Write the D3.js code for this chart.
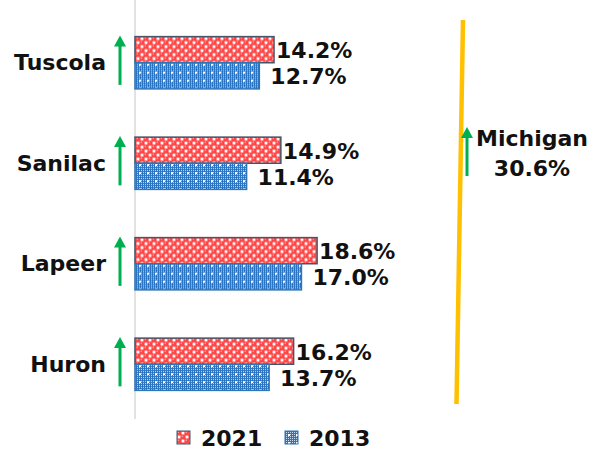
<!DOCTYPE html>
<html>
<head>
<meta charset="utf-8">
<script src="https://cdn.jsdelivr.net/npm/d3@7"></script>
<style>
  html, body { margin: 0; padding: 0; background: #fff; }
  svg { display: block; font-family: "DejaVu Sans", Verdana, sans-serif; font-weight: bold; }
</style>
</head>
<body>
<svg id="chart" width="598" height="452"></svg>
<script>
/*
 * Data
 * ========================================================================== */
const counties = ['Tuscola', 'Sanilac', 'Lapeer', 'Huron'];
const years = ['2021', '2013'];
const values2021 = [14.2, 14.9, 18.6, 16.2];
const values2013 = [12.7, 11.4, 17.0, 13.7];
const stateName = 'Michigan';
const stateValue = 30.6;

const axisX = 135,
      fontSize = 22;

const svg = d3.select('#chart');
const defs = svg.append('defs');

// red "sphere" style fill: red blobs with white squares between
const pRed = defs.append('pattern')
  .attr('id', 'pat2021').attr('patternUnits', 'userSpaceOnUse')
  .attr('width', 8).attr('height', 8);
pRed.append('rect').attr('width', 8).attr('height', 8).attr('fill', '#ff4646');
[[4.6, 0.6], [0.6, 4.6]].forEach(([sx, sy]) => {
  pRed.append('rect').attr('x', sx).attr('y', sy).attr('width', 2.8).attr('height', 2.8).attr('fill', '#fff');
});
[[1.3, 1.3], [5.3, 5.3]].forEach(([cx, cy]) => {
  pRed.append('circle').attr('cx', cx).attr('cy', cy).attr('r', 0.7).attr('fill', '#ffb0b0');
});

// blue fine mesh fill
const pBlue = defs.append('pattern')
  .attr('id', 'pat2013').attr('patternUnits', 'userSpaceOnUse')
  .attr('width', 8).attr('height', 8);
pBlue.append('rect').attr('width', 8).attr('height', 8).attr('fill', '#2a74c2');
for (let i = 1; i < 8; i += 2) {
  for (let j = 1; j < 8; j += 2) {
    pBlue.append('rect').attr('x', i).attr('y', j).attr('width', 1).attr('height', 1).attr('fill', '#c4daf2');
  }
}
pBlue.append('rect').attr('x', 3).attr('y', 3).attr('width', 2).attr('height', 2).attr('fill', '#fff');

const fills = { '2021': 'url(#pat2021)', '2013': 'url(#pat2013)' };
const strokes = { '2021': '#44546a', '2013': '#2e75b6' };

/*
 * Scales
 * ========================================================================== */
const x = d3.scaleLinear().domain([0, 10]).range([axisX, axisX + 97.9]);

const y = d3.scaleBand()
  .domain(counties)
  .range([12.5, 414.5])
  .paddingInner(0.48)
  .paddingOuter(0.24);

const ySub = d3.scaleBand().domain(years).range([0, y.bandwidth()]);

const rows = counties.map((c, i) => ({
  county: c,
  vals: [{ year: '2021', v: values2021[i] }, { year: '2013', v: values2013[i] }]
}));

// vertical axis line
svg.append('line')
  .attr('x1', axisX).attr('x2', axisX)
  .attr('y1', 0).attr('y2', 419)
  .attr('stroke', '#d9d9d9').attr('stroke-width', 1.5);

/*
 * Bars and labels
 * ========================================================================== */
const g = svg.selectAll('g.county')
  .data(rows)
  .enter().append('g')
    .attr('class', 'county')
    .attr('transform', d => 'translate(0,' + y(d.county) + ')');

g.selectAll('rect.bar')
  .data(d => d.vals)
  .enter().append('rect')
    .attr('class', 'bar')
    .attr('x', x(0))
    .attr('y', d => ySub(d.year))
    .attr('width', d => x(d.v) - x(0))
    .attr('height', ySub.bandwidth())
    .attr('fill', d => fills[d.year])
    .attr('stroke', d => strokes[d.year])
    .attr('stroke-width', 1.5);

g.selectAll('text.val')
  .data(d => d.vals)
  .enter().append('text')
    .attr('class', 'val')
    .attr('x', d => x(d.v) + (d.year === '2021' ? 2 : 11))
    .attr('y', d => ySub(d.year) + ySub.bandwidth() / 2 + 1)
    .attr('dominant-baseline', 'central')
    .attr('font-size', fontSize)
    .attr('fill', '#111')
    .text(d => d.v.toFixed(1) + '%');

g.append('text')
  .attr('x', 106)
  .attr('y', y.bandwidth() / 2)
  .attr('text-anchor', 'end')
  .attr('dominant-baseline', 'central')
  .attr('font-size', fontSize)
  .attr('fill', '#111')
  .text(d => d.county);

// up arrows
function upArrow(sel, ax, top, bottom) {
  sel.append('line')
    .attr('x1', ax).attr('x2', ax)
    .attr('y1', top + 9).attr('y2', bottom)
    .attr('stroke', '#00b050').attr('stroke-width', 3);
  sel.append('path')
    .attr('d', `M${ax},${top} L${ax - 6},${top + 11} L${ax + 6},${top + 11} Z`)
    .attr('fill', '#00b050');
}

g.each(function () {
  upArrow(d3.select(this), 120, -1, y.bandwidth() - 4);
});

/*
 * Michigan annotation
 * ========================================================================== */
svg.append('line')
  .attr('x1', 463).attr('y1', 20)
  .attr('x2', 456.5).attr('y2', 404)
  .attr('stroke', '#ffc000').attr('stroke-width', 4.5);

upArrow(svg, 467, 127, 176);

svg.append('text')
  .attr('x', 532).attr('y', 138)
  .attr('text-anchor', 'middle').attr('dominant-baseline', 'central')
  .attr('font-size', fontSize).attr('fill', '#111')
  .text(stateName);

svg.append('text')
  .attr('x', 532).attr('y', 168)
  .attr('text-anchor', 'middle').attr('dominant-baseline', 'central')
  .attr('font-size', fontSize).attr('fill', '#111')
  .text(stateValue.toFixed(1) + '%');

/*
 * Legend
 * ========================================================================== */
const legend = svg.selectAll('g.legend')
  .data(years)
  .enter().append('g')
    .attr('class', 'legend')
    .attr('transform', (d, i) => 'translate(' + (177 + i * 108) + ',431)');

legend.append('rect')
  .attr('width', 13).attr('height', 13)
  .attr('fill', d => fills[d])
  .attr('stroke', d => strokes[d]).attr('stroke-width', 1);

legend.append('text')
  .attr('x', 24).attr('y', 7.5)
  .attr('dominant-baseline', 'central')
  .attr('font-size', fontSize).attr('fill', '#111')
  .text(d => d);
</script>
</body>
</html>
